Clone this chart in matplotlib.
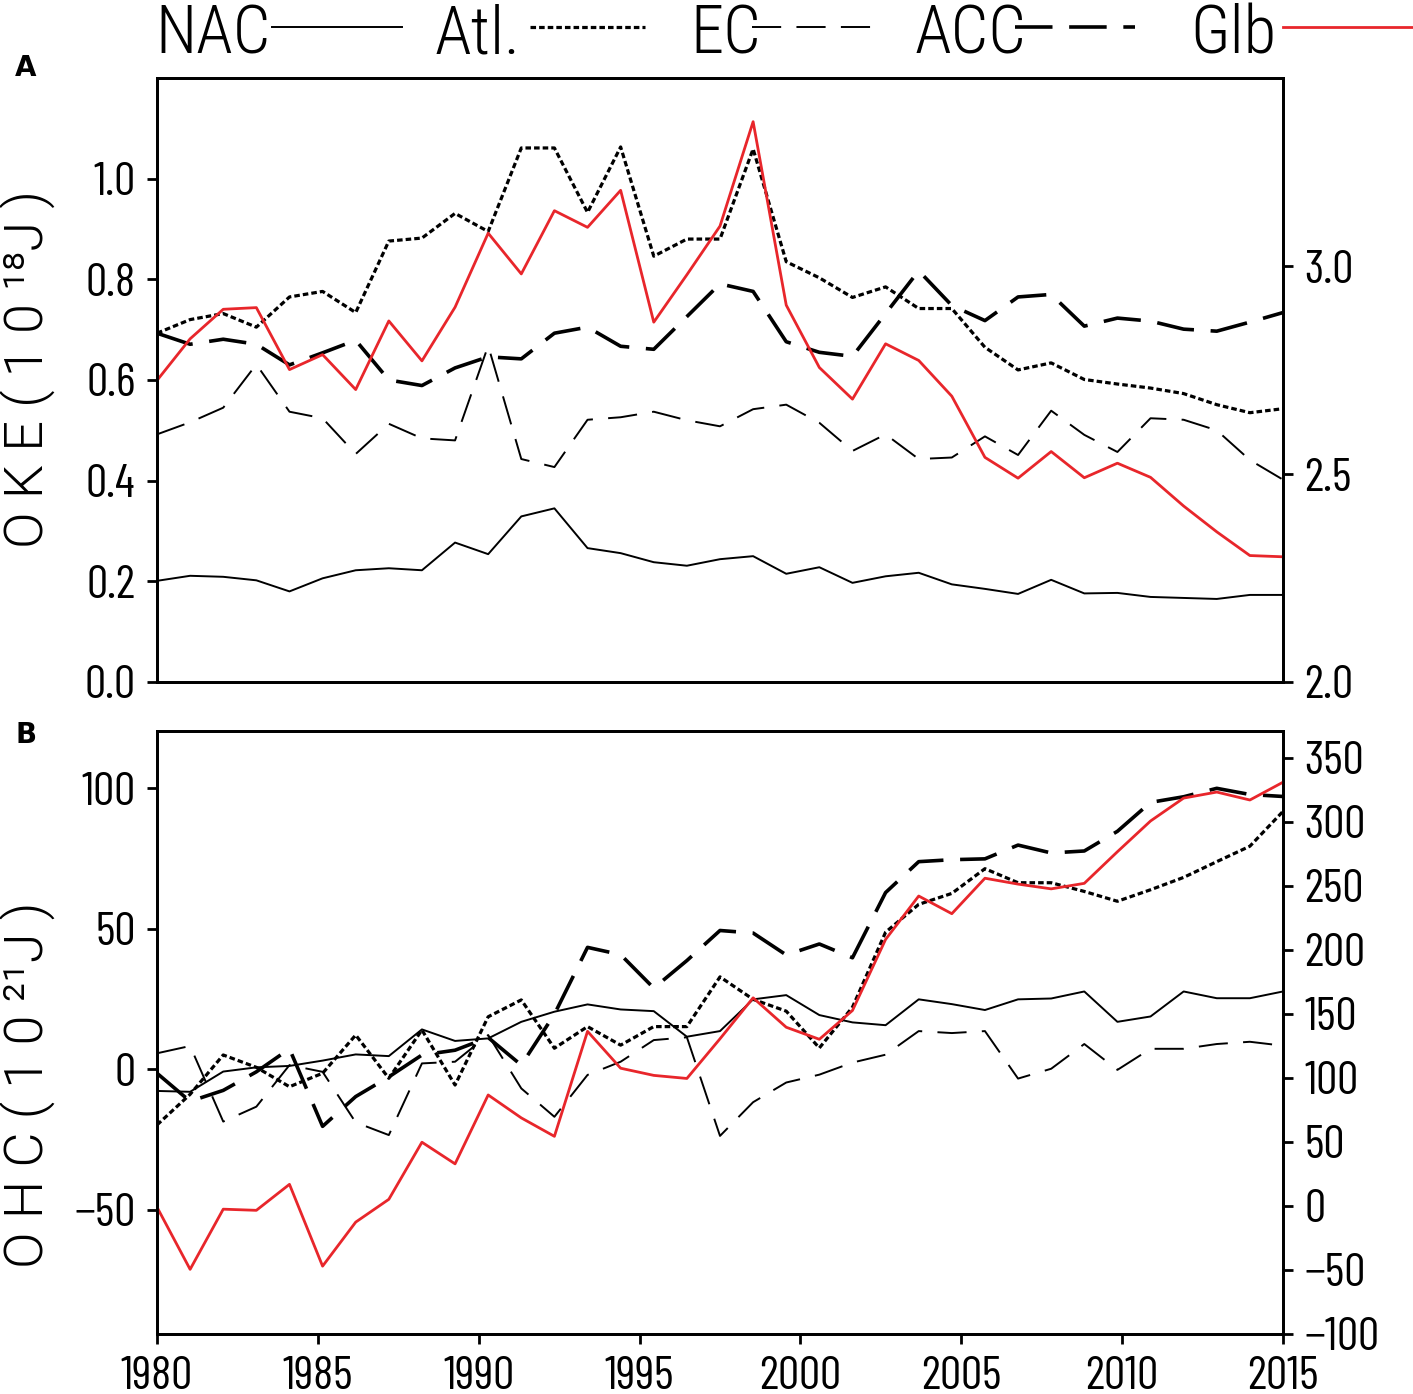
import numpy as np
import matplotlib
matplotlib.use("Agg")
import matplotlib.pyplot as plt
from matplotlib import font_manager
from matplotlib.lines import Line2D

# 35 annual values drawn evenly across the 1980-2015 axis
years = np.linspace(1980, 2015, 35)

# panel A : OKE (1e18 J), Glb on the right axis
nac_oke = [0.201, 0.211, 0.209, 0.202, 0.180, 0.206, 0.222, 0.226, 0.222, 0.277,
           0.254, 0.329, 0.345, 0.266, 0.256, 0.238, 0.231, 0.244, 0.250, 0.215,
           0.228, 0.197, 0.210, 0.217, 0.194, 0.185, 0.175, 0.203, 0.176, 0.177,
           0.169, 0.167, 0.165, 0.173, 0.173]
atl_oke = [0.693, 0.720, 0.732, 0.705, 0.765, 0.776, 0.734, 0.876, 0.882, 0.931,
           0.895, 1.061, 1.061, 0.933, 1.063, 0.846, 0.880, 0.880, 1.059, 0.835,
           0.803, 0.764, 0.785, 0.742, 0.742, 0.665, 0.620, 0.634, 0.601, 0.592,
           0.584, 0.573, 0.551, 0.535, 0.543]
ec_oke = [0.492, 0.516, 0.545, 0.631, 0.537, 0.524, 0.453, 0.513, 0.484, 0.480,
          0.668, 0.443, 0.427, 0.521, 0.526, 0.537, 0.520, 0.508, 0.542, 0.551,
          0.515, 0.459, 0.492, 0.443, 0.446, 0.488, 0.451, 0.539, 0.491, 0.457,
          0.524, 0.521, 0.500, 0.441, 0.402]
acc_oke = [0.693, 0.671, 0.681, 0.671, 0.630, 0.654, 0.679, 0.600, 0.589, 0.624,
           0.646, 0.642, 0.693, 0.705, 0.667, 0.661, 0.726, 0.791, 0.776, 0.676,
           0.655, 0.647, 0.732, 0.817, 0.748, 0.718, 0.765, 0.770, 0.707, 0.723,
           0.717, 0.701, 0.697, 0.715, 0.734]
glb_oke = [2.725, 2.825, 2.896, 2.900, 2.751, 2.787, 2.703, 2.868, 2.772, 2.901,
           3.079, 2.981, 3.133, 3.093, 3.182, 2.865, 2.979, 3.096, 3.347, 2.906,
           2.756, 2.680, 2.813, 2.773, 2.687, 2.540, 2.490, 2.554, 2.491, 2.526,
           2.492, 2.423, 2.361, 2.304, 2.301]

# panel B : OHC (1e21 J), Glb on the right axis
nac_ohc = [-7.8, -8.1, -0.9, 0.6, 1.1, 3.0, 5.2, 4.6, 14.1, 10.0,
           10.9, 16.8, 20.4, 23.0, 21.2, 20.6, 11.5, 13.5, 24.8, 26.3,
           19.2, 16.6, 15.6, 24.8, 23.1, 21.0, 24.8, 25.1, 27.6, 16.8,
           18.7, 27.6, 25.2, 25.2, 27.6]
atl_ohc = [-19.9, -9.0, 5.0, 0.6, -6.3, -1.5, 12.1, -3.3, 13.9, -5.7,
           18.6, 24.6, 7.4, 15.1, 8.5, 15.1, 15.1, 32.8, 24.8, 20.6,
           7.5, 22.0, 48.7, 58.6, 62.5, 71.3, 66.3, 66.3, 63.2, 59.7,
           63.8, 68.2, 73.8, 79.3, 91.7]
ec_ohc = [5.6, 8.2, -18.7, -13.4, 1.4, -1.0, -19.0, -23.5, 2.0, 2.6,
          12.1, -6.9, -17.0, -2.1, 2.6, 10.3, 11.3, -23.8, -11.8, -4.8,
          -2.0, 2.3, 5.1, 13.5, 12.8, 13.5, -3.4, 0.1, 8.9, -0.3,
          7.2, 7.2, 8.9, 9.7, 8.3]
acc_ohc = [-1.5, -11.5, -7.6, -1.0, 7.2, -20.4, -9.8, -2.8, 5.0, 6.7,
           11.2, 1.4, 19.5, 43.3, 40.7, 28.8, 38.6, 49.3, 48.4, 40.6,
           44.5, 39.6, 62.8, 73.8, 74.5, 74.8, 79.7, 76.9, 77.6, 84.6,
           94.9, 96.9, 99.9, 97.7, 97.0]
glb_ohc = [-0.9, -49.5, -2.5, -3.4, 16.9, -47.0, -12.6, 5.2, 49.8, 32.9,
           86.7, 68.8, 54.4, 136.4, 107.6, 102.0, 99.6, 130.6, 162.6, 139.6,
           130.2, 152.7, 208.2, 242.1, 228.3, 256.0, 251.4, 247.7, 252.0, 276.7,
           300.7, 318.6, 323.3, 317.1, 331.0]

labels = ["NAC", "Atl.", "EC", "ACC", "Glb"]
x_ticks = [1980, 1985, 1990, 1995, 2000, 2005, 2010, 2015]
oke_ticks = [0.0, 0.2, 0.4, 0.6, 0.8, 1.0]
oke_glb_ticks = [2.0, 2.5, 3.0]
ohc_ticks = [-50, 0, 50, 100]
ohc_glb_ticks = [-100, -50, 0, 50, 100, 150, 200, 250, 300, 350]

plt.rcParams["lines.scale_dashes"] = False

# narrow face for the numbers
fl = font_manager.fontManager.ttflist
narrow = "Roboto Condensed"
if any(f.name == "Barlow Condensed" for f in fl):
    narrow = "Barlow Condensed"
nfont = dict(family=[narrow, "DejaVu Sans"], weight=400)
lfont = dict(family=["Roboto Condensed", "DejaVu Sans"], weight=300)

styles = {
    "NAC": dict(color="black", lw=1.4, ls="-"),
    "Atl.": dict(color="black", lw=2.3, ls=(0, (4.0, 2.2))),
    "EC": dict(color="black", lw=1.4, ls=(0, (21, 11))),
    "ACC": dict(color="black", lw=2.6, ls=(0, (27, 12))),
    "Glb": dict(color="#e8262b", lw=2.0, ls="-"),
}

W, H = 1413, 1394
fig = plt.figure(figsize=(W / 100, H / 100), dpi=100)

axA = fig.add_axes([157 / W, 1 - 682 / H, 1126 / W, 604 / H])
axA2 = axA.twinx()
axB = fig.add_axes([157 / W, 1 - 1334 / H, 1126 / W, 603 / H])
axB2 = axB.twinx()

for lab, d in zip(labels[:4], [nac_oke, atl_oke, ec_oke, acc_oke]):
    axA.plot(years, d, **styles[lab])
axA2.plot(years, glb_oke, **styles["Glb"])
for lab, d in zip(labels[:4], [nac_ohc, atl_ohc, ec_ohc, acc_ohc]):
    axB.plot(years, d, **styles[lab])
axB2.plot(years, glb_ohc, **styles["Glb"])

axA.set_xlim(1980, 2015)
axB.set_xlim(1980, 2015)
axA.set_ylim(0, 1.2)
axA2.set_ylim(2.0, 3.452)
axB.set_ylim(-94.3, 120.3)
axB2.set_ylim(-100, 371)

tfont = dict(nfont, size=34)
axA.set_yticks(oke_ticks)
axA.set_yticklabels(["%.1f" % v for v in oke_ticks], **tfont)
axA2.set_yticks(oke_glb_ticks)
axA2.set_yticklabels(["%.1f" % v for v in oke_glb_ticks], **tfont)
axB.set_yticks(ohc_ticks)
axB.set_yticklabels([str(v).replace("-", "\u2212") for v in ohc_ticks], **tfont)
axB2.set_yticks(ohc_glb_ticks)
axB2.set_yticklabels([str(v).replace("-", "\u2212") for v in ohc_glb_ticks], **tfont)
axB.set_xticks(x_ticks)
axB.set_xticklabels([str(v) for v in x_ticks], **tfont)

for ax in [axA, axA2, axB, axB2]:
    ax.tick_params(length=7, width=2.0, direction="out", pad=8.5)
    for s in ax.spines.values():
        s.set_linewidth(2.0)
axA.tick_params(axis="x", bottom=False, labelbottom=False)
axA2.tick_params(axis="x", bottom=False, labelbottom=False)

yfont = dict(family=["Roboto", "DejaVu Sans"], weight=300, fontsize=39)
fig.text(28 / W, 1 - 369 / H, "O K E ( 1 0 \u00b9\u2078J )", rotation=90,
         ha="center", va="center", **yfont)
fig.text(28 / W, 1 - 1085 / H, "O H C ( 1 0 \u00b2\u00b9J )", rotation=90,
         ha="center", va="center", **yfont)
fig.text(26 / W, 1 - 68 / H, "A", fontsize=20, fontweight="bold", ha="center", va="center")
fig.text(26 / W, 1 - 735 / H, "B", fontsize=20, fontweight="bold", ha="center", va="center")

# legend row: label then a line sample
leg_text_x = [155, 435, 690, 915, 1190]
leg_line_x = [(272, 402), (530, 645), (752, 877), (1015, 1135), (1283, 1413)]
for lab, tx, (l0, l1) in zip(labels, leg_text_x, leg_line_x):
    fig.text(tx / W, 1 - 53 / H, lab, fontsize=48, va="baseline", **lfont)
    fig.add_artist(Line2D([l0 / W, l1 / W], [1 - 27 / H, 1 - 27 / H],
                          transform=fig.transFigure, **styles[lab]))

fig.savefig("out.png", dpi=100)
